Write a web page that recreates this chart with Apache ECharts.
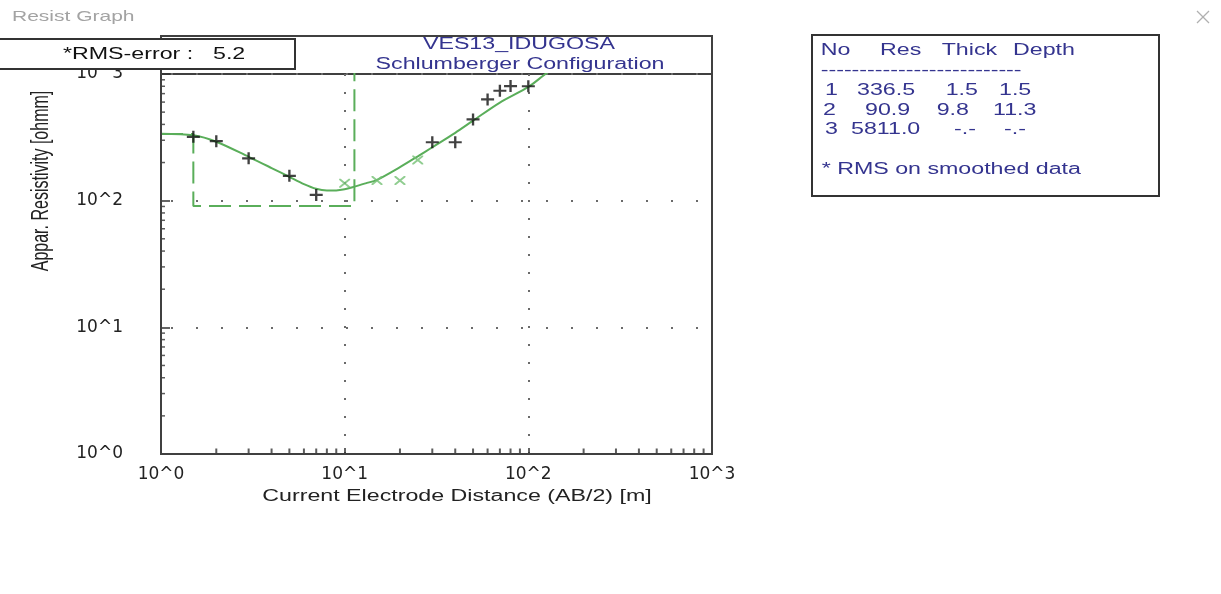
<!DOCTYPE html>
<html><head><meta charset="utf-8">
<script src="https://cdn.jsdelivr.net/npm/echarts@6/dist/echarts.min.js"></script>
<style>html,body{margin:0;padding:0;background:#fff}#chart{width:1221px;height:594px}</style>
</head><body><div id="chart"></div>
<script>
// ---- texts ----
const windowTitle = 'Resist Graph';
const siteName = 'VES13_IDUGOSA';
const configName = 'Schlumberger Configuration';
const rmsLabel = '*RMS-error :';
const rmsValue = '5.2';
const xAxisTitle = 'Current Electrode Distance (AB/2) [m]';
const yAxisTitle = 'Appar. Resistivity [ohmm]';
const tickLabels = ['10^0', '10^1', '10^2', '10^3'];

// ---- observed apparent resistivity (black +) ----
const obsAB  = [1.5, 2, 3, 5, 7, 30, 40, 50, 60, 70, 80, 100];
const obsRho = [319, 295, 216, 157, 111, 289, 289, 438, 630, 737, 803, 800];
// ---- observed, second segment (green x) ----
const obs2AB  = [10, 15, 20, 25];
const obs2Rho = [137, 144, 144, 209];
// ---- fitted curve ----
const fitAB  = [1, 1.5, 2, 3, 4, 5, 6, 7, 8, 9, 10, 11.3, 13, 15, 20, 25, 30, 40, 50, 70, 100, 125, 150];
const fitRho = [338, 328, 292, 222, 181, 154, 135, 124, 120.5, 120.5, 123, 129, 137, 146, 184, 224, 264, 343, 428, 595, 790, 1010, 1200];
// ---- layer model ----
const layerNo    = [1, 2, 3];
const layerRes   = [336.5, 90.9, 5811.0];
const layerThick = [1.5, 9.8, null];
const layerDepth = [1.5, 11.3, null];
const tableHeader = ['No', 'Res', 'Thick', 'Depth'];
const tableNote = '* RMS on smoothed data';
// ---- minor tick positions (log axes) ----
const minorTicks = [2, 3, 4, 5, 6, 7, 8, 9, 20, 30, 40, 50, 60, 70, 80, 90, 200, 300, 400, 500, 600, 700, 800, 900];

const AX_MIN = 1, AX_MAX = 1000;
const GREEN = '#5aae5a';
const NAVY = '#34348f';
const TXT_FONT = 'Liberation Sans';
const SX = 1.45;

const modelPts = [];
let layerTop = AX_MIN;
for (let i = 0; i < layerRes.length; i++) {
  const bot = layerDepth[i] == null ? AX_MAX : layerDepth[i];
  modelPts.push([layerTop, layerRes[i]], [bot, layerRes[i]]);
  layerTop = bot;
}

function fmtTick(v) { return tickLabels[Math.round(Math.log10(v))] || ''; }
function txt(x, y, text, o) {
  o = o || {};
  return {
    type: 'text', x: x, y: y, z: 60, silent: true,
    scaleX: o.scaleX == null ? SX : o.scaleX, scaleY: o.scaleY == null ? 1 : o.scaleY,
    rotation: o.rotation || 0,
    style: {
      text: text, fontFamily: TXT_FONT, fontSize: o.size || 16,
      fill: o.color || '#111', align: o.align || 'left', verticalAlign: 'middle'
    }
  };
}

const graphics = [];
graphics.push({ type: 'rect', z: 40, silent: true, shape: { x: 161, y: 36, width: 551, height: 418 },
  style: { fill: 'none', stroke: '#404040', lineWidth: 2 } });
graphics.push(txt(12, 17, windowTitle, { color: '#a3a3a3', size: 15, scaleX: 1.4 }));
graphics.push({ type: 'line', z: 60, silent: true, shape: { x1: 1197, y1: 11, x2: 1209, y2: 23 }, style: { stroke: '#b0b0b0', lineWidth: 1.3 } });
graphics.push({ type: 'line', z: 60, silent: true, shape: { x1: 1197, y1: 23, x2: 1209, y2: 11 }, style: { stroke: '#b0b0b0', lineWidth: 1.3 } });
graphics.push({ type: 'rect', z: 55, silent: true, shape: { x: -3, y: 39, width: 298, height: 30 },
  style: { fill: '#fff', stroke: '#333', lineWidth: 2 } });
graphics.push(txt(63, 55, rmsLabel));
graphics.push(txt(213, 55, rmsValue));
graphics.push(txt(519, 45, siteName, { color: NAVY, align: 'center' }));
graphics.push(txt(520, 65, configName, { color: NAVY, align: 'center' }));
graphics.push(txt(457, 497, xAxisTitle, { color: '#222', align: 'center' }));
graphics.push(txt(42, 181, yAxisTitle, { color: '#222', align: 'center', scaleX: 1, scaleY: SX, rotation: Math.PI / 2 }));
graphics.push({ type: 'rect', z: 40, silent: true, shape: { x: 812, y: 35, width: 347, height: 161 },
  style: { fill: '#fff', stroke: '#333', lineWidth: 2 } });
const headerX = [820.7, 880, 941.7, 1013];
tableHeader.forEach((h, i) => graphics.push(txt(headerX[i], 51, h, { color: NAVY })));
graphics.push(txt(820.7, 71, '--------------------------', { color: NAVY }));
const rowY = [90.7, 110.7, 130];
const rowX = [[825, 857, 945.7, 999], [823, 865, 936.7, 993], [825, 851, 954, 1004]];
for (let i = 0; i < layerNo.length; i++) {
  const cells = [String(layerNo[i]), layerRes[i].toFixed(1),
    layerThick[i] == null ? '-.-' : layerThick[i].toFixed(1),
    layerDepth[i] == null ? '-.-' : layerDepth[i].toFixed(1)];
  cells.forEach((c, j) => graphics.push(txt(rowX[i][j], rowY[i], c, { color: NAVY })));
}
graphics.push(txt(821.7, 169.5, tableNote, { color: NAVY }));

const PLUS = 'path://M0,4.1h10v1.8h-10z M4.1,0h1.8v10h-1.8z';
const CROSS = 'path://M0,0 L1.4,0 L10,8.6 L10,10 L8.6,10 L0,1.4 Z M8.6,0 L10,0 L10,1.4 L1.4,10 L0,10 L0,8.6 Z';

const chart = echarts.init(document.getElementById('chart'), null, { renderer: 'canvas' });
chart.setOption({
  backgroundColor: '#fff',
  animation: false,
  grid: { left: 161, right: 509, top: 74, bottom: 140, show: true, borderColor: '#404040', borderWidth: 2, backgroundColor: 'transparent' },
  xAxis: {
    type: 'log', logBase: 10, min: AX_MIN, max: AX_MAX,
    axisLine: { show: true, onZero: false, lineStyle: { color: '#333', width: 2 } },
    axisTick: { show: true, inside: true, length: 6, lineStyle: { color: '#333', width: 1.5 } },
    axisLabel: { formatter: fmtTick, fontFamily: 'DejaVu Sans', fontSize: 17, color: '#222', margin: 12 },
    splitLine: { show: true, lineStyle: { color: '#6a6a6a', width: 2, type: [2, 16] } },
    minorTick: { show: false }
  },
  yAxis: {
    type: 'log', logBase: 10, min: AX_MIN, max: AX_MAX,
    axisLine: { show: true, onZero: false, lineStyle: { color: '#333', width: 2 } },
    axisTick: { show: true, inside: true, length: 9, lineStyle: { color: '#333', width: 1.5 } },
    axisLabel: { formatter: fmtTick, fontFamily: 'DejaVu Sans', fontSize: 17, color: '#222', margin: 38 },
    splitLine: { show: true, lineStyle: { color: '#6a6a6a', width: 2, type: [2, 23], dashOffset: 15 } },
    minorTick: { show: false }
  },
  graphic: graphics,
  series: [
    { name: 'minorX', type: 'scatter', silent: true, clip: false, z: 8,
      symbol: 'rect', symbolSize: [2, 5], symbolOffset: [0, -3],
      itemStyle: { color: '#333' },
      data: minorTicks.map(v => [v, AX_MIN]) },
    { name: 'minorY', type: 'scatter', silent: true, clip: false, z: 8,
      symbol: 'rect', symbolSize: [4, 1.5], symbolOffset: [2, 0],
      itemStyle: { color: '#333' },
      data: minorTicks.map(v => [AX_MIN, v]) },
    { name: 'model', type: 'line', silent: true, clip: true, showSymbol: false, z: 4,
      lineStyle: { color: GREEN, width: 2, type: [22, 8] },
      data: modelPts },
    { name: 'fit', type: 'line', silent: true, clip: true, showSymbol: false, smooth: 0.3, z: 5,
      lineStyle: { color: GREEN, width: 2 },
      data: fitAB.map((x, i) => [x, fitRho[i]]) },
    { name: 'obs2', type: 'scatter', silent: true, z: 6,
      symbol: CROSS, symbolSize: [11, 9], itemStyle: { color: '#74c074' },
      data: obs2AB.map((x, i) => [x, obs2Rho[i]]) },
    { name: 'obs', type: 'scatter', silent: true, z: 7,
      symbol: PLUS, symbolSize: [13, 12], itemStyle: { color: '#111' },
      data: obsAB.map((x, i) => [x, obsRho[i]]) }
  ]
});
</script></body></html>
